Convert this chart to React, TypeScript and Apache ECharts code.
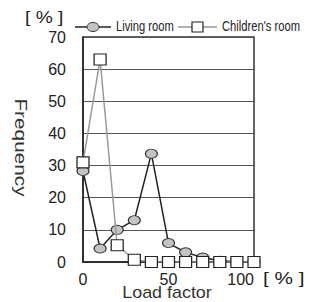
import React, { useEffect, useRef } from "react";
import * as echarts from "echarts";

const loadFactor = [0, 10, 20, 30, 40, 50, 60, 70, 80, 90, 100];
const livingRoom = [28.3, 4.2, 10, 13, 33.7, 5.9, 3.0, 1.4, 0.4, 0.1, 0];
const childrensRoom = [31, 63, 5.2, 0.7, 0, 0, 0, 0, 0, 0, 0];
const seriesNames = ["Living room", "Children's room"];
const xTitle = "Load factor";
const yTitle = "Frequency";
const unit = "[ % ]";

const FONT = "Liberation Sans, Arial, sans-serif";

export default function App() {
  const ref = useRef<HTMLDivElement>(null);
  useEffect(() => {
    if (!ref.current) return;
    const chart = echarts.init(ref.current, undefined, { renderer: "svg" });
    chart.setOption({
      animation: false,
      backgroundColor: "#fff",
      grid: {
        left: 83,
        right: 72,
        top: 37,
        bottom: 40,
        show: true,
        borderColor: "#333",
        borderWidth: 1.5,
      },
      xAxis: {
        type: "value",
        min: 0,
        max: 100,
        interval: 50,
        axisLine: { show: true, lineStyle: { color: "#222", width: 1.5 } },
        axisTick: { show: false },
        splitLine: { show: false },
        axisLabel: {
          fontFamily: FONT,
          fontSize: 16,
          color: "#222",
          margin: 9,
          alignMaxLabel: "right",
          padding: [0, 0, 0, 0],
        },
      },
      yAxis: {
        type: "value",
        min: 0,
        max: 70,
        interval: 10,
        axisLine: { show: true, lineStyle: { color: "#222", width: 1.5 } },
        axisTick: { show: false },
        splitLine: { show: true, lineStyle: { color: "#555", width: 1 } },
        axisLabel: { fontFamily: FONT, fontSize: 16, color: "#222", margin: 17 },
      },
      graphic: [
        {
          type: "text",
          x: 25,
          y: 18,
          scaleX: 1.2,
          style: { text: unit, fontFamily: FONT, fontSize: 16, fill: "#222", verticalAlign: "middle" },
        },
        {
          type: "text",
          x: 263,
          y: 278,
          scaleX: 1.3,
          style: { text: unit, fontFamily: FONT, fontSize: 16, fill: "#222", verticalAlign: "middle" },
        },
        {
          type: "text",
          x: 167,
          y: 293,
          scaleX: 1.12,
          style: {
            text: xTitle,
            fontFamily: FONT,
            fontSize: 16,
            fill: "#333",
            align: "center",
            verticalAlign: "middle",
          },
        },
        {
          type: "text",
          x: 21,
          y: 147.5,
          rotation: -Math.PI / 2,
          scaleX: 1.3,
          style: {
            text: yTitle,
            fontFamily: FONT,
            fontSize: 16,
            fill: "#333",
            align: "center",
            verticalAlign: "middle",
          },
        },
        {
          type: "line",
          shape: { x1: 75, y1: 27, x2: 111, y2: 27 },
          style: { stroke: "#222", lineWidth: 1.5 },
        },
        {
          type: "ellipse",
          shape: { cx: 93, cy: 27, rx: 6, ry: 4.5 },
          style: { fill: "#c4c4c4", stroke: "#333", lineWidth: 1 },
        },
        {
          type: "text",
          x: 116,
          y: 27,
          scaleX: 0.8,
          style: {
            text: seriesNames[0],
            fontFamily: FONT,
            fontSize: 14,
            fill: "#222",
            verticalAlign: "middle",
          },
        },
        {
          type: "line",
          shape: { x1: 178, y1: 27, x2: 217, y2: 27 },
          style: { stroke: "#999", lineWidth: 1.5 },
        },
        {
          type: "rect",
          shape: { x: 192, y: 22, width: 11, height: 10 },
          style: { fill: "#fff", stroke: "#222", lineWidth: 1.2 },
        },
        {
          type: "text",
          x: 222,
          y: 27,
          scaleX: 0.8,
          style: {
            text: seriesNames[1],
            fontFamily: FONT,
            fontSize: 14,
            fill: "#222",
            verticalAlign: "middle",
          },
        },
      ],
      series: [
        {
          name: seriesNames[1],
          type: "line",
          data: loadFactor.map((x, i) => [x, childrensRoom[i]]),
          symbol: "rect",
          symbolSize: [12, 11],
          lineStyle: { color: "#999", width: 1.5 },
          itemStyle: { color: "#fff", borderColor: "#222", borderWidth: 1.2 },
          z: 3,
        },
        {
          name: seriesNames[0],
          type: "line",
          data: loadFactor.map((x, i) => [x, livingRoom[i]]),
          symbol: "circle",
          symbolSize: [12, 9],
          lineStyle: { color: "#222", width: 1.5 },
          itemStyle: { color: "#c4c4c4", borderColor: "#333", borderWidth: 1 },
          z: 2,
        },
      ],
    });
    return () => chart.dispose();
  }, []);
  return <div ref={ref} style={{ width: 326, height: 302, position: "absolute", left: 0, top: 0 }} />;
}
